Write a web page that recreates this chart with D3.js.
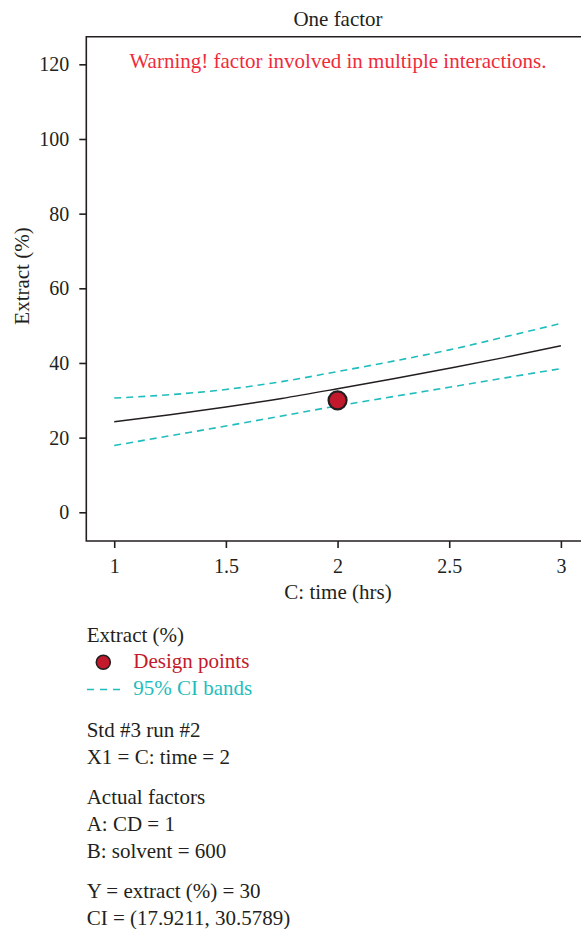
<!DOCTYPE html>
<html>
<head>
<meta charset="utf-8">
<script src="https://cdn.jsdelivr.net/npm/d3@7"></script>
<style>
  html, body { margin: 0; padding: 0; background: #fff; }
  svg { display: block; font-family: "Liberation Serif", "DejaVu Serif", serif; }
</style>
</head>
<body>
<svg id="chart" width="581" height="929"></svg>
<script>
// One-factor effect plot: predicted extract vs. time, with 95% CI bands
const timeHrs   = [1, 1.25, 1.5, 1.75, 2, 2.25, 2.5, 2.75, 3];
const predicted = [24.25, 26.1, 28.2, 30.5, 33.1, 35.8, 38.6, 41.5, 44.6];
const ciUpper   = [30.6, 31.5, 32.9, 35.0, 37.7, 40.5, 43.5, 47.0, 50.6];
const ciLower   = [17.9, 20.5, 23.1, 25.8, 28.5, 31.0, 33.5, 36.0, 38.5];
const designX   = [2];
const designY   = [30];
const xTicks    = [1, 1.5, 2, 2.5, 3];
const yTicks    = [0, 20, 40, 60, 80, 100, 120];

const infoLines = [
  ["Std #3 run #2", "X1 = C: time = 2"],
  ["Actual factors", "A: CD = 1", "B: solvent = 600"],
  ["Y = extract (%) = 30", "CI = (17.9211, 30.5789)"]
];

const ink = "#231f20", cyan = "#1fbdbd", red = "#c21a2c", warnRed = "#ef2b3b";
const fs = 21, tickFs = 20;

const svg = d3.select("#chart");
const plotLeft = 86.3, plotRight = 581, plotTop = 36.7, plotBottom = 541;

const x = d3.scaleLinear().domain([0.875, 3.09]).range([plotLeft, plotRight]);
const y = d3.scaleLinear().domain([-7.69, 127.4]).range([plotBottom, plotTop]);

// frame: top, left and bottom edges
svg.append("path")
  .attr("d", `M${plotRight},${plotTop}H${plotLeft}V${plotBottom}H${plotRight}`)
  .attr("fill", "none").attr("stroke", ink).attr("stroke-width", 1.6);

// axes
const yAxis = svg.append("g").attr("transform", `translate(${plotLeft},0)`)
  .call(d3.axisLeft(y).tickValues(yTicks).tickSize(7).tickPadding(10).tickFormat(d3.format("d")));
const xAxis = svg.append("g").attr("transform", `translate(0,${plotBottom})`)
  .call(d3.axisBottom(x).tickValues(xTicks).tickSize(7).tickPadding(11).tickFormat(d => String(d)));
[yAxis, xAxis].forEach(g => {
  g.select(".domain").remove();
  g.selectAll("line").attr("stroke", ink).attr("stroke-width", 1.6);
  g.selectAll("text").attr("fill", ink).style("font-size", tickFs + "px")
    .style("font-family", "Liberation Serif, serif");
});

// CI bands
const line = d3.line().curve(d3.curveMonotoneX)
  .x((d, i) => x(timeHrs[i])).y(d => y(d));
[ciUpper, ciLower].forEach(arr => {
  svg.append("path").datum(arr).attr("d", line)
    .attr("fill", "none").attr("stroke", cyan).attr("stroke-width", 1.6)
    .attr("stroke-dasharray", "7,5");
});
// predicted response
svg.append("path").datum(predicted).attr("d", line)
  .attr("fill", "none").attr("stroke", ink).attr("stroke-width", 1.5);

// design points
svg.selectAll("circle.pt").data(designX).join("circle").attr("class", "pt")
  .attr("cx", d => x(d)).attr("cy", (d, i) => y(designY[i])).attr("r", 9)
  .attr("fill", red).attr("stroke", ink).attr("stroke-width", 2.2);

// titles
svg.append("text").attr("x", 338).attr("y", 26).attr("text-anchor", "middle")
  .attr("fill", ink).style("font-size", fs + "px").text("One factor");
svg.append("text").attr("x", 338).attr("y", 68).attr("text-anchor", "middle")
  .attr("fill", warnRed).style("font-size", fs + "px")
  .text("Warning! factor involved in multiple interactions.");
svg.append("text").attr("x", 338).attr("y", 599).attr("text-anchor", "middle")
  .attr("fill", ink).style("font-size", fs + "px").text("C: time (hrs)");
svg.append("text").attr("transform", "translate(29,276) rotate(-90)")
  .attr("text-anchor", "middle").attr("fill", ink).style("font-size", fs + "px")
  .text("Extract (%)");

// legend
const lx = 86.7;
svg.append("text").attr("x", lx).attr("y", 641.5).attr("fill", ink)
  .style("font-size", fs + "px").text("Extract (%)");
svg.append("circle").attr("cx", 103.3).attr("cy", 662.3).attr("r", 7)
  .attr("fill", red).attr("stroke", ink).attr("stroke-width", 1.6);
svg.append("text").attr("x", 133.3).attr("y", 668).attr("fill", red)
  .style("font-size", fs + "px").text("Design points");
svg.append("line").attr("x1", 87).attr("x2", 121).attr("y1", 689.5).attr("y2", 689.5)
  .attr("stroke", cyan).attr("stroke-width", 1.6).attr("stroke-dasharray", "7,6");
svg.append("text").attr("x", 133.3).attr("y", 695).attr("fill", cyan)
  .style("font-size", fs + "px").text("95% CI bands");

// run details
const blockStarts = [736.7, 804, 897.5];
const lineGap = 27;
infoLines.forEach((block, b) => {
  block.forEach((t, j) => {
    svg.append("text").attr("x", lx).attr("y", blockStarts[b] + j * lineGap)
      .attr("fill", ink).style("font-size", fs + "px").text(t);
  });
});
</script>
</body>
</html>
